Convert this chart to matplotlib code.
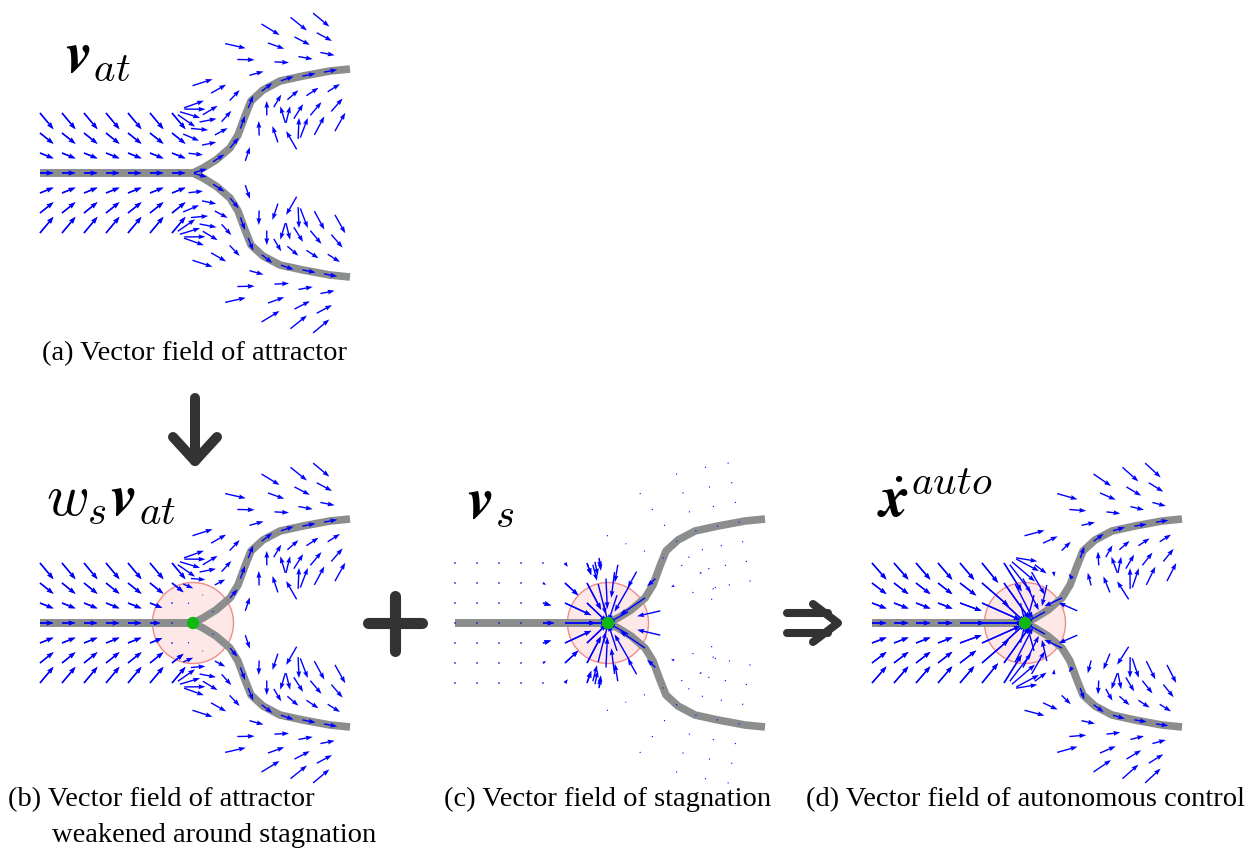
import numpy as np
import matplotlib.pyplot as plt
from matplotlib.patches import Circle

plt.rcParams['mathtext.fontset'] = 'custom'
plt.rcParams['mathtext.rm'] = 'cmr10'
plt.rcParams['mathtext.it'] = 'cmmi10'
plt.rcParams['mathtext.bfit'] = 'STIXGeneral:italic:bold'

W, H = 1250, 848

# reference path in px from the branch point (y up): straight trunk, then two mirrored branches
trunk_start = -153
branch_dx = [0, 10, 23, 37, 45, 52, 58, 70, 87, 110, 137, 157]
branch_dy = [0, 5, 13, 25, 38, 57, 72, 83, 92, 97, 102, 104]

# sampling of the attractor field along the path
spacing = 22
offsets = [-60, -40, -20, 0, 20, 40, 60]
along_gain = 13.5
normal_gain = 0.27

# stagnation point at the branch point
stag_radius = 40.5
stag_reach = 56.0
weight_edge = 38.0
weight_width = 4.0

# branch point of each panel, px from the top-left corner
panel_origin = {'a': (193, 173), 'b': (193, 623), 'c': (608, 623), 'd': (1025, 623)}
panel_label = {
    'a': r'$\mathbfit{v}_{at}$',
    'b': r'$w_s\mathbfit{v}_{at}$',
    'c': r'$\mathbfit{v}_s$',
    'd': r'$\dot{\mathbfit{x}}^{auto}$',
}
label_pos = {'a': (65, 72), 'b': (46, 515), 'c': (467, 518), 'd': (877, 517)}


def curve(sign):
    x = np.r_[trunk_start, branch_dx].astype(float)
    y = np.r_[0, sign * np.array(branch_dy)].astype(float)
    s = np.r_[0, np.cumsum(np.hypot(np.diff(x), np.diff(y)))]
    return x, y, s


def dense(sign):
    x, y, s = curve(sign)
    ss = np.arange(0, s[-1], 1.0)
    return np.interp(ss, s, x), np.interp(ss, s, y)


def dist_to(qx, qy, line):
    lx, ly = line
    d = np.hypot(qx[:, None] - lx[None, :], qy[:, None] - ly[None, :])
    return d.min(axis=1)


def samples(sign):
    x, y, s = curve(sign)
    ss = np.arange(0, s[-1] - spacing / 2, spacing)
    px, py = np.interp(ss, s, x), np.interp(ss, s, y)
    h = 6
    lo, hi = np.clip(ss - h, 0, s[-1]), np.clip(ss + h, 0, s[-1])
    tx = np.interp(hi, s, x) - np.interp(lo, s, x)
    ty = np.interp(hi, s, y) - np.interp(lo, s, y)
    n = np.hypot(tx, ty)
    tx, ty = tx / n, ty / n
    return px, py, tx, ty, -ty, tx


def attractor_field():
    lines = {1: dense(1), -1: dense(-1)}
    X, Y, U, V = [], [], [], []
    for sign in (1, -1):
        px, py, tx, ty, nx, ny = samples(sign)
        for d in offsets:
            qx, qy = px + d * nx, py + d * ny
            u = along_gain * tx - normal_gain * d * nx
            v = along_gain * ty - normal_gain * d * ny
            own = dist_to(qx, qy, lines[sign])
            other = dist_to(qx, qy, lines[-sign])
            keep = (own > abs(d) - 6) & (other >= own - 1)
            X.append(qx[keep]); Y.append(qy[keep])
            U.append(u[keep]); V.append(v[keep])
    return [np.concatenate(a) for a in (X, Y, U, V)]


X, Y, Ua, Va = attractor_field()
r = np.hypot(X, Y)
w_s = 1.0 / (1.0 + np.exp(-(r - weight_edge) / weight_width))
g = np.exp(-(r / stag_reach) ** 4) + 0.02 * np.exp(-r / 150)
Us, Vs = -X * g, -Y * g

fields = {
    'a': (Ua, Va),
    'b': (w_s * Ua, w_s * Va),
    'c': (Us, Vs),
    'd': (w_s * Ua + Us, w_s * Va + Vs),
}

fig = plt.figure(figsize=(W / 100, H / 100), dpi=100)

# overlay in px for captions and the operators between panels
top = fig.add_axes([0, 0, 1, 1])
top.set_xlim(0, W)
top.set_ylim(H, 0)
top.axis('off')

cap = dict(family='Liberation Serif', fontsize=20.5, va='baseline')
top.text(195, 360, '(a) Vector field of attractor', ha='center', **cap)
top.text(8, 806, '(b) Vector field of attractor', ha='left', **cap)
top.text(52, 842, 'weakened around stagnation', ha='left', **cap)
top.text(608, 806, '(c) Vector field of stagnation', ha='center', **cap)
top.text(1025, 806, '(d) Vector field of autonomous control', ha='center', **cap)

for k, (lx, ly) in label_pos.items():
    top.text(lx, ly, panel_label[k], fontsize=42, ha='left', va='baseline')

op = dict(color='#333333', solid_capstyle='round', solid_joinstyle='round')
top.plot([195, 195], [398, 461], lw=7.2, **op)
top.plot([173, 195, 217], [437, 461, 437], lw=7.2, **op)
top.plot([368, 422], [623, 623], lw=8, **op)
top.plot([395, 395], [596, 651], lw=8, **op)
top.plot([787, 828], [613, 613], lw=5.8, **op)
top.plot([787, 828], [633, 633], lw=5.8, **op)
top.plot([813, 838, 813], [604, 623, 642], lw=5.8, **op)

x0, x1, y0, y1 = -190, 200, -200, 200
for k, (jx, jy) in panel_origin.items():
    ax = fig.add_axes([(jx + x0) / W, (H - jy + y0) / H, (x1 - x0) / W, (y1 - y0) / H])
    ax.set_xlim(x0, x1)
    ax.set_ylim(y0, y1)
    ax.axis('off')
    for sign in (1, -1):
        cx, cy, _ = curve(sign)
        ax.plot(cx, cy, color='#8c8e8e', lw=5.5, solid_capstyle='butt',
                solid_joinstyle='round', zorder=2)
    if k != 'a':
        ax.add_patch(Circle((0, 0), stag_radius, facecolor='#fde7e7',
                            edgecolor='#f08c8c', lw=1, zorder=1))
    U, V = fields[k]
    ax.quiver(X, Y, U, V, angles='xy', scale_units='xy', scale=1, color='blue',
              units='dots', width=1.4, headwidth=3.5, headlength=5,
              headaxislength=4.5, zorder=3)
    if k != 'a':
        ax.add_patch(Circle((0, 0), 5.5, color='#10b810', zorder=4))

fig.savefig('out.png', dpi=100)
